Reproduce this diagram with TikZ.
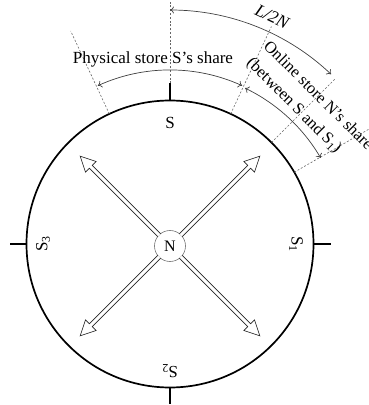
\documentclass[tikz,border=0pt]{standalone}
\usepackage{fontspec}
\setmainfont{Liberation Serif}
\usetikzlibrary{arrows.meta,calc}
\begin{document}
\begin{tikzpicture}[x=1pt,y=1pt,
  ring/.style={line width=1.7pt},
  guide/.style={draw=black!60, line width=0.6pt, dash pattern=on 2pt off 1.8pt},
  span/.style={draw=black!75, line width=0.7pt, {To[length=4pt,width=7pt]}-{To[length=4pt,width=7pt]}},
  lbl/.style={font=\fontsize{17}{25}\selectfont, inner sep=0pt},
  hollow/.style={draw=black!85, line width=0.6pt, fill=white},
  hub/.style={circle, draw=black!55, line width=0.6pt, minimum size=31pt, inner sep=0pt, font=\fontsize{16}{18}\selectfont}]
\useasboundingbox (0,0) rectangle (369,405);
\clip (0,0) rectangle (369,405);
\coordinate (C) at (170,161);
\def\R{143.5}
% ring and ticks
\draw[ring] (C) circle[radius=\R];
\foreach \a in {0,90,180,270}
  \draw[ring] ($(C)+(\a:\R)$) -- ($(C)+(\a:{\R+17})$);
% dashed guide lines
\draw[guide] ($(C)+(90:{\R+17})$) -- ($(C)+(90:250)$);
\foreach \a/\l in {115/235,65/240,45/234,30/260}
  \draw[guide] ($(C)+(\a:\R)$) -- ($(C)+(\a:\l)$);
% spans
\draw[span] ($(C)+(90:234)$) arc[start angle=90, end angle=46.5, radius=234];
\draw[span] ($(C)+(114.5:174)$) arc[start angle=114.5, end angle=65.5, radius=174];
\draw[span] ($(C)+(64.3:173)$) arc[start angle=64.3, end angle=30.3, radius=176];
% labels
\node[lbl] (phys) at (153,346) {Physical store S’s share};
\node[lbl, font=\fontsize{17.5}{20}\selectfont\itshape, rotate=-25] (len) at ($(C)+(65.8:249)$) {L/2N};
\node[lbl, font=\fontsize{16.5}{24}\selectfont, rotate=-45, align=left] (online) at ($(C)+(45:197)$) {Online store N’s share\\(between S and S\textsubscript{1})};
\node[lbl] (s0) at ($(C)+(90:121)$) {S};
\node[lbl, rotate=-90] (s1) at ($(C)+(0:126)$) {S\textsubscript{1}};
\node[lbl, rotate=180] (s2) at ($(C)+(270:127)$) {S\textsubscript{2}};
\node[lbl, rotate=90] (s3) at ($(C)+(180:127)$) {S\textsubscript{3}};
% hub and hollow arrows
\node[hub] (N) at (170,159) {N};
\foreach \a in {45,135,225,315}
  \draw[hollow, shift={(N.center)}, rotate=\a]
    (15.3,2) -- (112,2) -- (112,7.5) -- (127,0) -- (112,-7.5) -- (112,-2) -- (15.3,-2);
\end{tikzpicture}
\end{document}
